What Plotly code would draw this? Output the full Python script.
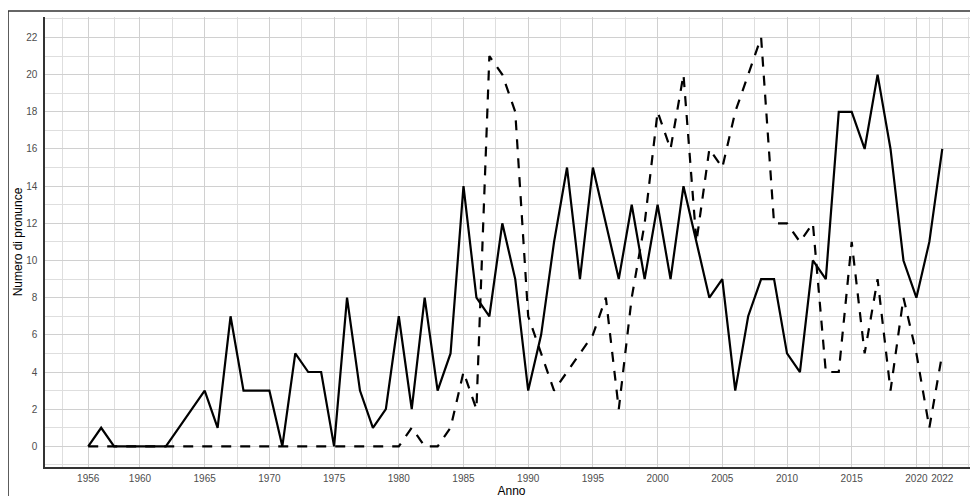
import plotly.graph_objects as go

years = list(range(1956, 2023))

series_solid = [0, 1, 0, 0, 0, 0, 0, 1, 2, 3,      # 1956-1965
                1, 7, 3, 3, 3, 0, 5, 4, 4, 0,      # 1966-1975
                8, 3, 1, 2, 7, 2, 8, 3, 5, 14,     # 1976-1985
                8, 7, 12, 9, 3, 6, 11, 15, 9, 15,  # 1986-1995
                12, 9, 13, 9, 13, 9, 14, 11, 8, 9, # 1996-2005
                3, 7, 9, 9, 5, 4, 10, 9, 18, 18,   # 2006-2015
                16, 20, 16, 10, 8, 11, 16]         # 2016-2022

series_dashed = [0, 0, 0, 0, 0, 0, 0, 0, 0, 0,       # 1956-1965
                 0, 0, 0, 0, 0, 0, 0, 0, 0, 0,       # 1966-1975
                 0, 0, 0, 0, 0, 1, 0, 0, 1, 4,       # 1976-1985
                 2, 21, 20, 18, 7, 5, 3, 4, 5, 6,    # 1986-1995
                 8, 2, 8, 12, 18, 16, 20, 11, 16, 15,  # 1996-2005
                 18, 20, 22, 12, 12, 11, 12, 4, 4, 11,  # 2006-2015
                 5, 9, 3, 8, 5, 1, 5]                # 2016-2022

x_ticks = [1956, 1960, 1965, 1970, 1975, 1980, 1985, 1990, 1995,
           2000, 2005, 2010, 2015, 2020, 2022]
x_minor = [1954, 1958, 1962.5, 1967.5, 1972.5, 1977.5, 1982.5, 1987.5,
           1992.5, 1997.5, 2002.5, 2007.5, 2012.5, 2017.5, 2021, 2024]
y_ticks = list(range(0, 23, 2))
y_minor = list(range(-1, 24, 2))

FONT = "Liberation Sans, Arial, sans-serif"

fig = go.Figure()
fig.add_trace(go.Scatter(x=years, y=series_dashed, mode="lines",
                         line=dict(color="black", width=2.2, dash="10px,9px"),
                         showlegend=False))
fig.add_trace(go.Scatter(x=years, y=series_solid, mode="lines",
                         line=dict(color="black", width=2.2),
                         showlegend=False))

axis_common = dict(
    showgrid=True, gridcolor="#d0d0d0", gridwidth=1.4,
    zeroline=False, showline=True, linecolor="#333333", linewidth=1.5,
    ticks="", tickfont=dict(family=FONT, size=10, color="#4d4d4d"),
)

fig.update_layout(
    width=978, height=496,
    margin=dict(l=37, r=8, t=9, b=37),
    paper_bgcolor="white", plot_bgcolor="white",
    font=dict(family=FONT, color="black"),
    xaxis=dict(
        range=[1952.66, 2024.76],
        tickmode="array", tickvals=x_ticks, ticktext=[str(v) for v in x_ticks],
        minor=dict(tickmode="array", tickvals=x_minor, showgrid=True,
                   gridcolor="#dedede", gridwidth=1.1),
        title=dict(text="Anno", font=dict(family=FONT, size=12, color="black"), standoff=3),
        ticklabelstandoff=1,
        automargin=False,
        **axis_common,
    ),
    yaxis=dict(
        range=[-1.11, 23.1],
        tickmode="array", tickvals=y_ticks, ticktext=[str(v) for v in y_ticks],
        minor=dict(tickmode="array", tickvals=y_minor, showgrid=True,
                   gridcolor="#dedede", gridwidth=1.1),
        title=dict(text="Numero di pronunce", font=dict(family=FONT, size=12, color="black"), standoff=1),
        ticklabelstandoff=4,
        automargin=False,
        **axis_common,
    ),
    shapes=[
        dict(type="line", xref="paper", yref="paper",
             x0=-37/933, x1=1.05, y0=456/450, y1=456/450,
             line=dict(color="#333333", width=1.6)),
        dict(type="line", xref="paper", yref="paper",
             x0=-37/933, x1=-37/933, y0=456/450, y1=-0.2,
             line=dict(color="#333333", width=1.6)),
    ],
)

fig.write_html("out.html")
